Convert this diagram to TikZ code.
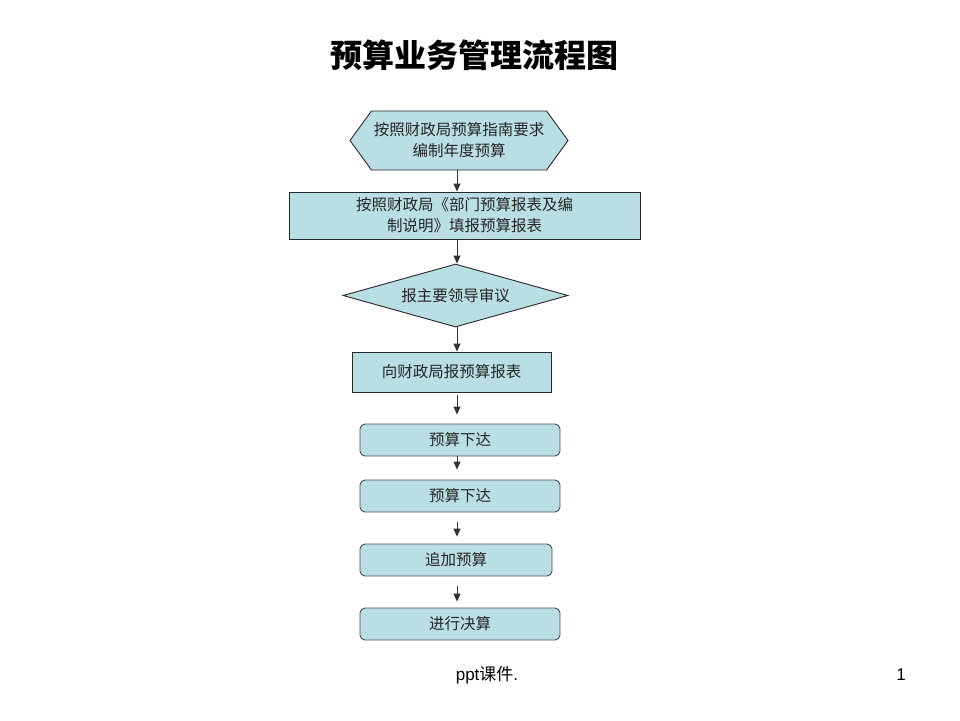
\documentclass[tikz,border=0pt]{standalone}
\usepackage{fontspec}
\setmainfont{Noto Sans CJK SC}
\newfontfamily\footfont{Liberation Sans}
\usetikzlibrary{arrows.meta,shapes.geometric,shapes.symbols}
\definecolor{boxfill}{RGB}{185,222,227}
\definecolor{boxline}{RGB}{40,40,40}
\tikzset{
  base/.style={draw=boxline,fill=boxfill,line width=0.9pt,inner sep=0pt,align=center,font=\fontsize{15.5}{21}\selectfont,text=black!85},
  rectbox/.style={base},
  roundbox/.style={base,draw=black!70,rounded corners=5pt,minimum width=200,minimum height=32},
  hexbox/.style={base,signal,signal to=west and east,signal pointer angle=108},
  decbox/.style={base,diamond,aspect=3.57},
  arr/.style={-{Triangle[length=8pt,width=7pt]},line width=0.9pt,black!80},
}
\begin{document}
\begin{tikzpicture}[x=1pt,y=-1pt]
\useasboundingbox (0,0) rectangle (960,720);
\node[font=\fontsize{32}{36}\selectfont\bfseries] (title) at (474,55) {预算业务管理流程图};
\node[hexbox,minimum width=218,minimum height=59] (hex) at (459,140.5) {按照财政局预算指南要求\\编制年度预算};
\node[rectbox,minimum width=351,minimum height=47] (r1) at (464.5,215.5) {按照财政局《部门预算报表及编\\制说明》填报预算报表};
\node[decbox,minimum width=225,minimum height=63] (d1) at (455.5,295.5) {报主要领导审议};
\node[rectbox,minimum width=199,minimum height=40] (r2) at (451.5,372) {向财政局报预算报表};
\node[roundbox] (s1) at (460,440) {预算下达};
\node[roundbox] (s2) at (460,496) {预算下达};
\node[roundbox,minimum width=192] (s3) at (456,560) {追加预算};
\node[roundbox] (s4) at (460,624) {进行决算};
\draw[arr] (hex.south -| 457,0) -- (r1.north -| 457,0);
\draw[arr] (r1.south -| 457,0) -- (d1.north -| 457,0);
\draw[arr] (d1.south -| 457,0) -- (r2.north -| 457,0);
\draw[arr,shorten <=3pt,shorten >=9pt] (r2.south -| 457,0) -- (s1.north -| 457,0);
\draw[arr,shorten >=10pt] (s1.south -| 457,0) -- (s2.north -| 457,0);
\draw[arr,shorten <=10pt,shorten >=7pt] (s2.south -| 457,0) -- (s3.north -| 457,0);
\draw[arr,shorten <=10pt,shorten >=6pt] (s3.south -| 457,0) -- (s4.north -| 457,0);
\node[font=\footfont\fontsize{17}{20}\selectfont] (foot) at (487,675) {ppt{\fontspec{Noto Sans CJK SC}课件}.};
\node[font=\footfont\fontsize{17}{20}\selectfont] (page) at (901,675) {1};
\end{tikzpicture}
\end{document}
